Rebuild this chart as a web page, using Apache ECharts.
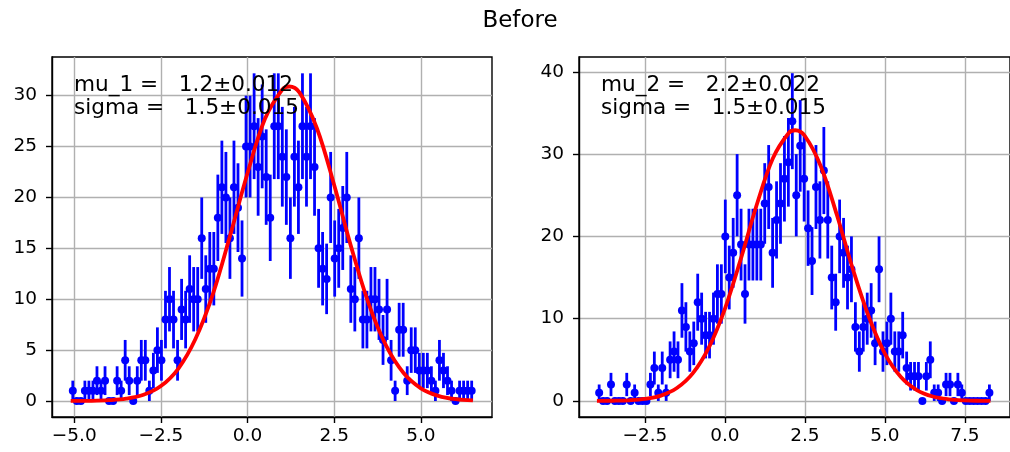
<!DOCTYPE html>
<html><head><meta charset="utf-8">
<script src="https://cdn.jsdelivr.net/npm/echarts@6/dist/echarts.min.js"></script>
<style>html,body{margin:0;padding:0;background:#fff}#c{width:1010px;height:452px}</style>
</head><body><div id="c"></div>
<script>
// ---- data ----
const chartTitle = 'Before';
const countsLeft = [1,0,0,1,1,1,2,1,2,0,
 0,2,1,4,2,0,2,4,4,1,
 3,5,4,8,10,8,4,9,8,11,
 10,10,16,11,13,13,18,21,20,16,
 21,19,14,25,25,27,23,26,22,18,
 27,27,24,22,16,24,21,27,24,27,
 23,15,13,12,20,14,15,17,20,11,
 10,16,8,8,10,10,9,6,9,4,
 1,7,7,2,5,5,3,3,3,2,
 1,4,3,2,1,0,1,1,1,1];
const countsRight = [1,0,0,2,0,0,0,2,0,1,
 0,0,0,2,4,1,4,1,5,6,
 5,11,9,6,7,12,10,8,8,10,
 13,13,20,15,18,25,19,13,19,19,
 19,19,24,26,18,22,24,27,29,34,
 25,31,27,21,17,26,22,28,22,15,
 12,20,18,15,16,9,6,9,10,11,
 7,16,6,7,10,6,6,8,4,3,
 3,3,0,3,5,1,1,0,2,2,
 0,2,1,0,0,0,0,0,0,1];
const binStartLeft = -5.04, binWidthLeft = 0.1162;
const binStartRight = -3.93, binWidthRight = 0.1232;
// fitted curves
const curveLeftX = [-5.1,-4.5,-4.0,-3.5,-3.0,-2.5,-2.0,-1.5,-1.0,-0.5,0,0.5,1.0,1.2,1.5,2.0,2.5,3.0,3.5,4.0,4.5,5.0,5.5,6.0,6.5];
const curveLeftY = [0.005,0.02,0.08,0.23,0.61,1.47,3.17,6.12,10.5,16.3,22.4,27.7,30.6,30.9,30.3,26.8,21.2,15.0,9.5,5.41,2.75,1.25,0.51,0.18,0.06];
const curveRightX = [-4.0,-3.5,-3.0,-2.5,-2.0,-1.5,-1.0,-0.5,0,0.5,1.0,1.5,2.0,2.2,2.5,3.0,3.5,4.0,4.5,5.0,5.5,6.0,6.5,7.0,7.5,8.0,8.3];
const curveRightY = [0.006,0.024,0.08,0.24,0.65,1.57,3.38,6.51,11.2,17.3,23.9,29.5,32.6,32.9,32.2,28.5,22.6,16.0,10.2,5.76,2.92,1.33,0.54,0.20,0.064,0.019,0.008];
const xTicksLeft = [-5, -2.5, 0, 2.5, 5];
const yTicksLeft = [0, 5, 10, 15, 20, 25, 30];
const xTicksRight = [-2.5, 0, 2.5, 5, 7.5];
const yTicksRight = [0, 10, 20, 30, 40];
const textLeft = ['mu_1 =   1.2\u00b10.012', 'sigma =   1.5\u00b10.015'];
const textRight = ['mu_2 =   2.2\u00b10.022', 'sigma =   1.5\u00b10.015'];

// ---- chart ----
const FONT = 'DejaVu Sans';
const BLUE = '#0000ff', RED = '#ff0000';
function pts(counts, start, w) { return counts.map((c, i) => [start + i * w, c]); }
const ptsLeft = pts(countsLeft, binStartLeft, binWidthLeft);
const ptsRight = pts(countsRight, binStartRight, binWidthRight);
const fmtX = v => (Math.abs(v) < 1e-9 ? '0.0' : v.toFixed(1)).replace('-', '\u2212');
const fmtY = v => String(Math.round(v));

function xAxis(gi, min, max, ticks) {
  return { gridIndex: gi, type: 'value', min, max,
    axisLine: { show: true, onZero: false, lineStyle: { color: '#000', width: 1.4 } },
    axisTick: { show: true, inside: false, length: 6, customValues: ticks, lineStyle: { color: '#000', width: 1.4 } },
    axisLabel: { customValues: ticks, formatter: fmtX, color: '#000', fontSize: 18.5, fontFamily: FONT, margin: 10 },
    splitLine: { show: true, lineStyle: { color: '#b0b0b0', width: 1.4 } } };
}
function yAxis(gi, min, max, ticks) {
  return { gridIndex: gi, type: 'value', min, max,
    axisLine: { show: true, onZero: false, lineStyle: { color: '#000', width: 1.4 } },
    axisTick: { show: true, inside: false, length: 6, customValues: ticks, lineStyle: { color: '#000', width: 1.4 } },
    axisLabel: { customValues: ticks, formatter: fmtY, color: '#000', fontSize: 18.5, fontFamily: FONT, margin: 15 },
    splitLine: { show: true, lineStyle: { color: '#b0b0b0', width: 1.4 } } };
}
function errSeries(ai, data) {
  return { type: 'custom', xAxisIndex: ai, yAxisIndex: ai, silent: true, z: 2,
    data: data.map(p => [p[0], p[1], Math.sqrt(p[1])]),
    encode: { x: 0, y: 1 },
    renderItem(params, api) {
      const x = api.value(0), y = api.value(1), e = api.value(2);
      const a = api.coord([x, y - e]), b = api.coord([x, y + e]);
      return { type: 'line', shape: { x1: a[0], y1: a[1], x2: b[0], y2: b[1] }, style: { stroke: BLUE, lineWidth: 2.8 } };
    } };
}
function dotSeries(ai, data) {
  return { type: 'scatter', xAxisIndex: ai, yAxisIndex: ai, data, symbol: 'circle', symbolSize: 8, z: 3, silent: true,
    itemStyle: { color: BLUE, opacity: 1 } };
}
function curveSeries(ai, xs, ys) {
  return { type: 'line', xAxisIndex: ai, yAxisIndex: ai, data: xs.map((x, i) => [x, ys[i]]), smooth: 0.35,
    showSymbol: false, z: 4, silent: true, lineStyle: { color: RED, width: 3.8 } };
}
function texts(x, lines) {
  return lines.map((t, k) => ({ type: 'text', left: x, top: 74 + k * 23.5, z: 10,
    style: { text: t, fill: '#000', font: '21.6px "DejaVu Sans"' } }));
}

const chart = echarts.init(document.getElementById('c'), null, { renderer: 'canvas' });
chart.setOption({
  animation: false,
  backgroundColor: '#fff',
  graphic: [{ type: 'text', x: 520, y: 21, z: 10,
      style: { text: chartTitle, fill: '#000', font: '23px "DejaVu Sans"', textAlign: 'center', textVerticalAlign: 'middle' } }]
    .concat(texts(74, textLeft)).concat(texts(601, textRight)),
  grid: [
    { left: 52, top: 57, width: 440, height: 360, show: true, borderColor: '#000', borderWidth: 1.4 },
    { left: 579, top: 57, width: 440, height: 360, show: true, borderColor: '#000', borderWidth: 1.4 }
  ],
  xAxis: [ xAxis(0, -5.64, 7.05, xTicksLeft), xAxis(1, -4.56, 8.91, xTicksRight) ],
  yAxis: [ yAxis(0, -1.57, 33.8, yTicksLeft), yAxis(1, -1.95, 41.8, yTicksRight) ],
  series: [
    errSeries(0, ptsLeft), dotSeries(0, ptsLeft), curveSeries(0, curveLeftX, curveLeftY),
    errSeries(1, ptsRight), dotSeries(1, ptsRight), curveSeries(1, curveRightX, curveRightY)
  ]
});
</script></body></html>
